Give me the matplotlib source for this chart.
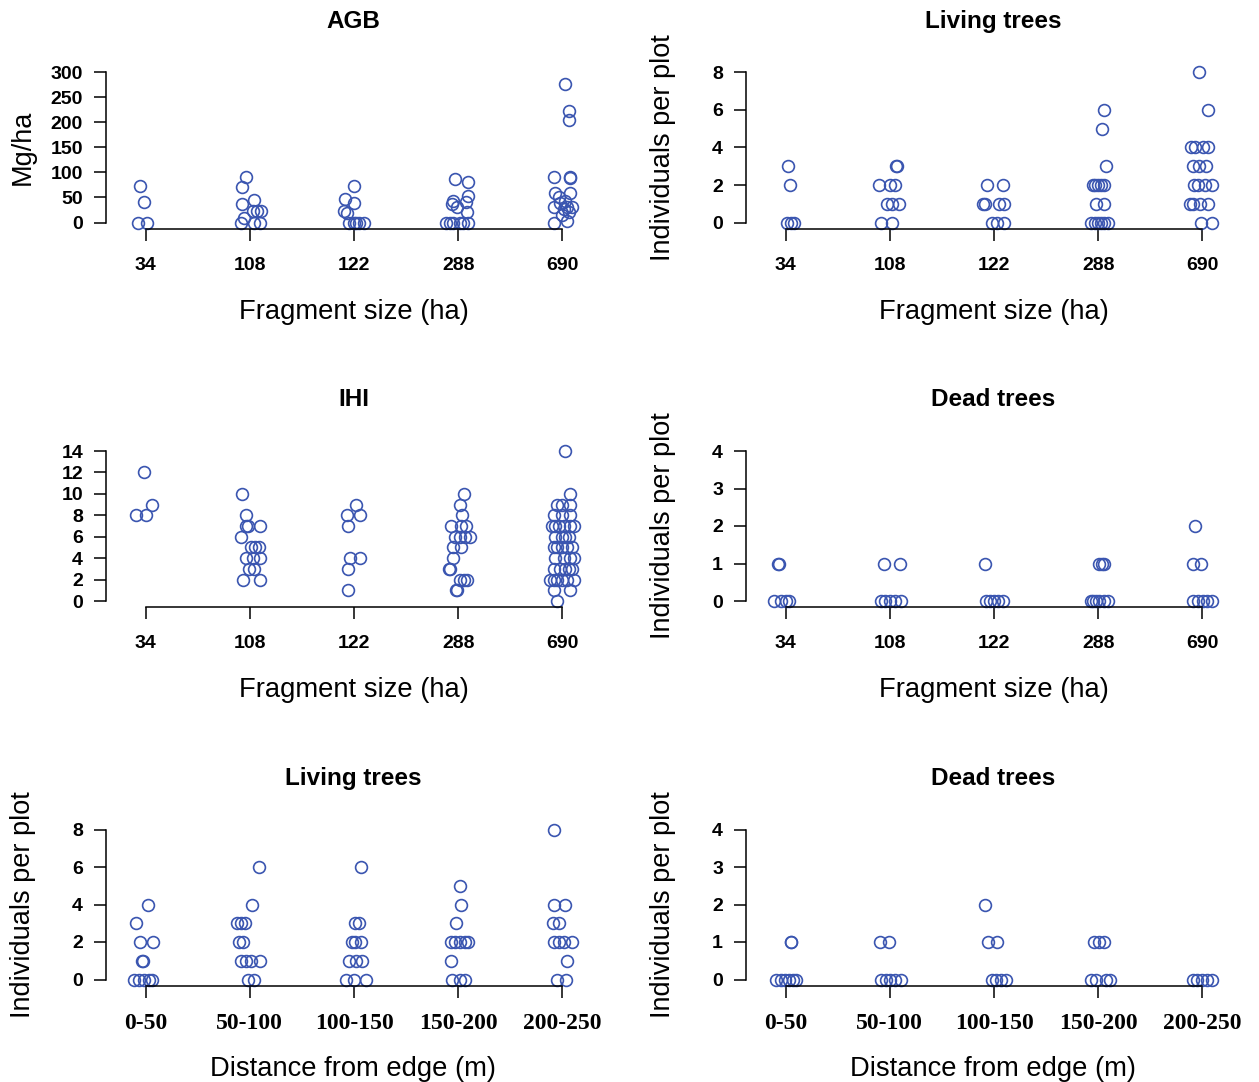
import matplotlib
matplotlib.use("Agg")
import matplotlib.pyplot as plt
import numpy as np

plt.rcParams['font.family'] = ['Liberation Sans', 'DejaVu Sans']

#*************************** data ***************************
frag_labels = ["34", "108", "122", "288", "690"]
dist_labels = ["0-50", "50-100", "100-150", "150-200", "200-250"]

# AGB (Mg/ha) per fragment
agb_vals = [[72, 42, 0, 0],
            [90, 70, 38, 46, 24, 24, 24, 10, 0, 0, 0],
            [72, 48, 40, 23, 20, 0, 0, 0, 0, 0],
            [86, 80, 53, 43, 38, 41, 31, 21, 0, 0, 0, 0, 0, 0],
            [276, 222, 205, 90, 90, 88, 58, 59, 50, 44, 31, 40, 31, 31, 28, 21, 15, 0, 3]]
agb_jit = [[-0.054, -0.016, -0.074, 0.010],
           [-0.032, -0.071, -0.071, 0.042, 0.026, 0.067, 0.106, -0.054, -0.087, 0.042, 0.099],
           [0.0, -0.090, 0.0, -0.093, -0.070, -0.048, 0.0, 0.048, 0.096, 0.020],
           [-0.035, 0.093, 0.093, -0.051, -0.060, 0.077, -0.010, 0.087, -0.115, -0.083, -0.051, 0.013, 0.045, 0.093],
           [0.022, 0.061, 0.061, -0.083, 0.071, 0.077, -0.067, 0.077, -0.035, 0.029, -0.083, -0.019, 0.045, 0.093, 0.013, 0.061, -0.003, -0.083, 0.045]]

# living trees per plot, by fragment
liv_f_vals = [[3, 2, 0, 0, 0],
              [3, 3, 2, 2, 2, 1, 1, 1, 0, 0],
              [2, 2, 1, 1, 1, 1, 0, 0, 0],
              [6, 5, 3, 2, 2, 2, 2, 2, 1, 1, 0, 0, 0, 0, 0, 0],
              [8, 6, 4, 4, 4, 4, 3, 3, 3, 2, 2, 2, 2, 1, 1, 1, 1, 0, 0]]
liv_f_jit = [[0.022, 0.038, 0.016, 0.048, 0.080],
             [0.064, 0.071, -0.106, 0.006, 0.054, -0.026, 0.022, 0.087, -0.080, 0.022],
             [-0.064, 0.090, -0.106, -0.087, 0.048, 0.096, -0.016, 0.032, 0.096],
             [0.051, 0.035, 0.074, -0.054, -0.029, 0.0, 0.026, 0.058, -0.022, 0.051, -0.071, -0.029, 0.0, 0.026, 0.058, 0.090],
             [-0.032, 0.054, -0.106, -0.067, 0.006, 0.054, -0.090, -0.035, 0.038, -0.080, -0.042, 0.022, 0.087, -0.122, -0.090, -0.026, 0.054, -0.016, 0.087]]

# IHI per fragment
ihi_vals = [[12, 9, 8, 8],
            [10, 8, 7, 7, 7, 6, 5, 5, 5, 4, 4, 4, 3, 3, 2, 2],
            [9, 8, 8, 7, 4, 4, 3, 1],
            [10, 9, 8, 7, 7, 7, 6, 6, 6, 6, 5, 5, 4, 3, 3, 2, 2, 2, 1, 1],
            [14, 10, 9, 9, 9, 8, 8, 8, 7, 7, 7, 7, 7, 7, 6, 6, 6, 6, 5, 5, 5, 5, 5,
             4, 4, 4, 4, 3, 3, 3, 3, 3, 2, 2, 2, 2, 2, 2, 1, 1, 0]]
ihi_jit = [[-0.016, 0.058, -0.096, 0.0],
           [-0.071, -0.038, -0.032, -0.016, 0.096, -0.087, 0.010, 0.048, 0.090, -0.032, 0.026, 0.096, -0.006, 0.042, -0.061, 0.096],
           [0.016, -0.071, 0.058, -0.058, -0.038, 0.058, -0.058, -0.058],
           [0.054, 0.019, 0.035, -0.067, 0.029, 0.077, -0.035, 0.013, 0.061, 0.109, -0.051, 0.029, -0.051, -0.090, -0.080, 0.013, 0.054, 0.083, -0.019, -0.010],
           [0.022, 0.077, -0.051, -0.003, 0.077, -0.083, -0.003, 0.077, -0.099, -0.067, -0.035, 0.013, 0.077, 0.109,
            -0.067, -0.003, 0.029, 0.061, -0.083, -0.051, -0.003, 0.045, 0.093,
            -0.067, 0.013, 0.077, 0.109, -0.083, -0.019, 0.029, 0.061, 0.093,
            -0.115, -0.083, -0.051, -0.003, 0.045, 0.109, -0.083, 0.077, -0.051]]

# dead trees per plot, by fragment
dead_f_vals = [[1, 1, 0, 0, 0, 0],
               [1, 1, 0, 0, 0, 0, 0],
               [1, 0, 0, 0, 0, 0],
               [1, 1, 1, 0, 0, 0, 0, 0, 0],
               [2, 1, 1, 0, 0, 0, 0, 0]]
dead_f_jit = [[-0.074, -0.067, -0.112, -0.048, 0.0, 0.032],
              [-0.058, 0.093, -0.080, -0.042, 0.006, 0.054, 0.112],
              [-0.087, -0.080, -0.042, 0.0, 0.042, 0.087],
              [0.010, 0.035, 0.058, -0.071, -0.048, -0.022, 0.010, 0.058, 0.090],
              [-0.067, -0.090, -0.016, -0.090, -0.042, 0.006, 0.048, 0.087]]

# living trees per plot, by distance from edge
liv_d_vals = [[4, 3, 2, 2, 1, 1, 0, 0, 0, 0, 0],
              [6, 4, 3, 3, 3, 2, 2, 1, 1, 1, 1, 0, 0],
              [6, 3, 3, 2, 2, 2, 1, 1, 1, 0, 0, 0],
              [5, 4, 3, 2, 2, 2, 2, 2, 1, 0, 0, 0],
              [8, 4, 4, 3, 3, 2, 2, 2, 2, 1, 0, 0]]
liv_d_jit = [[0.022, -0.090, -0.054, 0.074, -0.032, -0.026, -0.112, -0.064, -0.016, 0.032, 0.064],
             [0.090, 0.019, -0.119, -0.087, -0.048, -0.103, -0.061, -0.087, -0.038, 0.010, 0.099, -0.022, 0.042],
             [0.071, 0.006, 0.048, -0.016, 0.006, 0.064, -0.048, 0.016, 0.080, -0.080, 0.0, 0.112],
             [0.013, 0.029, -0.019, -0.067, -0.029, 0.013, 0.061, 0.093, -0.074, -0.061, 0.013, 0.061],
             [-0.083, -0.083, 0.029, -0.090, -0.035, -0.083, -0.035, 0.013, 0.093, 0.045, -0.051, 0.038]]

# dead trees per plot, by distance from edge
dead_d_vals = [[1, 1, 0, 0, 0, 0, 0, 0],
               [1, 1, 0, 0, 0, 0, 0],
               [2, 1, 1, 0, 0, 0, 0],
               [1, 1, 1, 0, 0, 0, 0],
               [0, 0, 0, 0, 0]]
dead_d_jit = [[0.048, 0.054, -0.090, -0.048, -0.006, 0.032, 0.071, 0.103],
              [-0.090, -0.003, -0.080, -0.035, 0.006, 0.054, 0.103],
              [-0.087, -0.054, 0.032, -0.022, 0.016, 0.064, 0.112],
              [-0.038, 0.010, 0.058, -0.071, -0.022, 0.074, 0.112],
              [-0.090, -0.048, 0.0, 0.048, 0.087]]

#*************************** layout ***************************
W, H = 1259, 1082
col = "#3A55B0"
col_left = [106, 746]
row_bottom = [228.5, 607, 985.5]
ax_w, ax_h = 495, 162

panels = [
    # (row, col, title, ylabel, vals, jit, ymax, yticks, xlabels, xlabel, serif ticks)
    (0, 0, "AGB", "Mg/ha", agb_vals, agb_jit, 300, np.arange(0, 301, 50), frag_labels, "Fragment size (ha)", False),
    (0, 1, "Living trees", "Individuals per plot", liv_f_vals, liv_f_jit, 8, np.arange(0, 9, 2), frag_labels, "Fragment size (ha)", False),
    (1, 0, "IHI", "", ihi_vals, ihi_jit, 14, np.arange(0, 15, 2), frag_labels, "Fragment size (ha)", False),
    (1, 1, "Dead trees", "Individuals per plot", dead_f_vals, dead_f_jit, 4, np.arange(0, 5, 1), frag_labels, "Fragment size (ha)", False),
    (2, 0, "Living trees", "Individuals per plot", liv_d_vals, liv_d_jit, 8, np.arange(0, 9, 2), dist_labels, "Distance from edge (m)", True),
    (2, 1, "Dead trees", "Individuals per plot", dead_d_vals, dead_d_jit, 4, np.arange(0, 5, 1), dist_labels, "Distance from edge (m)", True),
]

fig = plt.figure(figsize=(W / 100, H / 100), dpi=100)

for r, c, title, ylab, vals, jit, ymax, yticks, xlabs, xlab, serif in panels:
    ax = fig.add_axes([col_left[c] / W, 1 - row_bottom[r] / H, ax_w / W, ax_h / H])
    for i, (v, j) in enumerate(zip(vals, jit)):
        ax.plot(i + 1 + np.array(j), v, "o", ls="none", mfc="none", mec=col, ms=8.5, mew=1.2, clip_on=False)

    ax.set_xlim(0.62, 5.37)
    ax.set_ylim(-0.04 * ymax, 1.04 * ymax)
    for s in ["top", "right"]:
        ax.spines[s].set_visible(False)
    ax.spines["left"].set_bounds(0, ymax)
    ax.spines["bottom"].set_bounds(1, 5)
    ax.spines["left"].set_linewidth(1.1)
    ax.spines["bottom"].set_linewidth(1.1)

    ax.set_yticks(yticks)
    ax.set_yticklabels([str(t) for t in yticks], fontweight="bold", fontsize=14)
    ax.set_xticks(np.arange(1, 6))
    if serif:
        ax.set_xticklabels(xlabs, fontweight="bold", fontsize=17, family="Liberation Serif")
        ax.tick_params(axis="x", pad=11)
    else:
        ax.set_xticklabels(xlabs, fontweight="bold", fontsize=14)
        ax.tick_params(axis="x", pad=12)
    ax.tick_params(axis="both", length=8.5, width=1.1, direction="out")
    ax.tick_params(axis="y", pad=8)

    ax.set_title(title, fontweight="bold", fontsize=17.5, pad=28)
    ax.annotate(xlab, xy=(0.5, 0), xycoords="axes fraction", xytext=(0, -65),
                textcoords="offset points", ha="center", va="baseline", fontsize=19.7)
    if ylab:
        ax.annotate(ylab, xy=(0, 0.5), xycoords="axes fraction", xytext=(-60, 0),
                    textcoords="offset points", ha="center", va="center", rotation=90, fontsize=19.5)

plt.savefig("out.png", dpi=100)
